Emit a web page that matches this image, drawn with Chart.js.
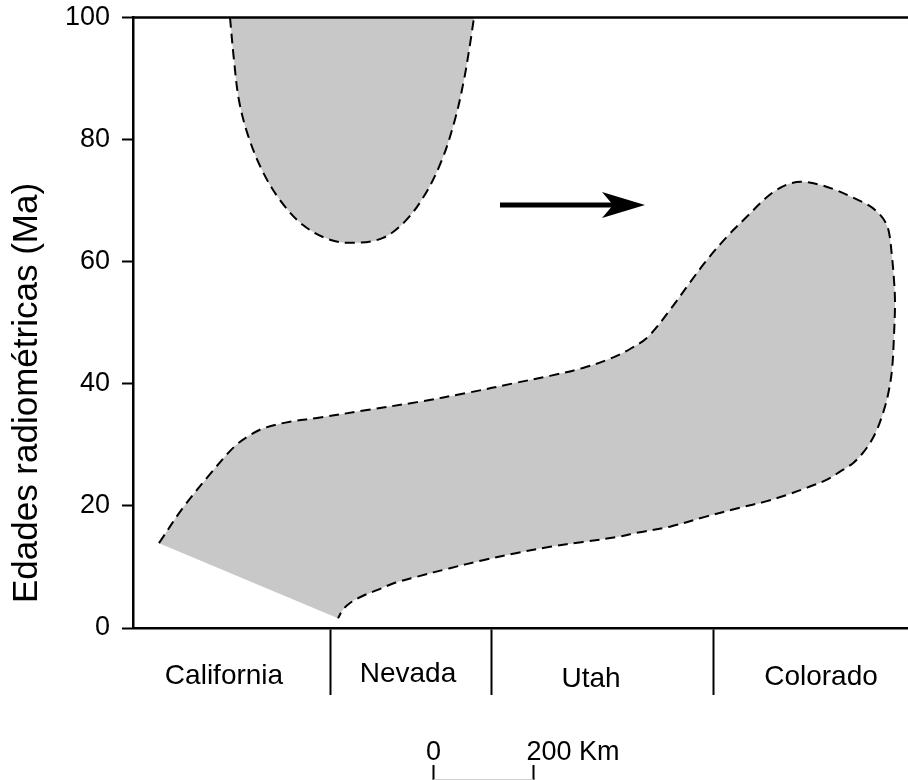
<!DOCTYPE html>
<html lang="es">
<head>
    <meta charset="UTF-8">
    <title>Edades radiométricas</title>
    <script src="https://cdn.jsdelivr.net/npm/chart.js@4.4.1/dist/chart.umd.min.js"></script>
    <style>
        body { margin: 0; background: #fff; }
    </style>
</head>
<body>
    <canvas id="grafico" width="908" height="780"></canvas>
    <script>
        // distancia en km (eje x) y edad en Ma (eje y)
        const arcoViejo = [
            [194, 100], [202, 93.0], [212, 86.4], [230, 80.7], [258, 75.0], [294, 70.1],
            [340, 66.0], [394, 63.6], [444, 63.1], [500, 63.9], [544, 66.6], [584, 71.0],
            [618, 76.7], [644, 83.3], [662, 89.8], [674, 95.6], [682, 100]
        ];
        const arcoJoven = [
            [52, 13.9], [100, 19.7], [154, 25.2], [204, 29.8], [238, 31.8], [264, 32.8],
            [314, 33.8], [368, 34.4], [468, 35.7], [568, 37.0], [668, 38.5], [768, 40.2],
            [834, 41.3], [900, 42.6], [954, 44.1], [994, 45.7], [1030, 47.7], [1074, 52.1],
            [1114, 56.6], [1148, 60.3], [1188, 64.1], [1228, 67.4], [1264, 70.3], [1288, 71.8],
            [1314, 72.8], [1338, 73.1], [1374, 72.6], [1410, 71.6], [1440, 70.5], [1470, 69.3],
            [1488, 68.2], [1504, 66.6], [1512, 64.8], [1518, 60.8], [1522, 57.0], [1524, 53.3],
            [1522, 48.0], [1518, 42.3], [1510, 38.2], [1500, 35.2], [1488, 32.5], [1474, 30.3],
            [1458, 28.5], [1440, 27.0], [1414, 25.6], [1388, 24.3], [1348, 23.0], [1308, 21.8],
            [1264, 20.7], [1214, 19.7], [1144, 18.2], [1074, 16.6], [1014, 15.7], [968, 14.9],
            [900, 14.1], [834, 13.3], [768, 12.3], [700, 11.1], [634, 9.8], [568, 8.4],
            [524, 7.4], [488, 6.2], [458, 5.2], [434, 4.1], [420, 3.0], [410, 1.6]
        ];
        const estados = ["California", "Nevada", "Utah", "Colorado"];
        const centrosEstados = [182, 550, 916, 1376];
        const limitesEstados = [394, 716, 1160];
        const ticksEdad = [0, 20, 40, 60, 80, 100];
        const flecha = { desde: [734, 69.3], hasta: [1024, 69.3] };
        const escalaKm = [600, 800];

        const aPuntos = arr => arr.map(p => ({ x: p[0], y: p[1] }));
        const fuente = "'Liberation Sans', Arial, sans-serif";

        const extras = {
            id: 'extras',
            afterDraw(chart) {
                const ctx = chart.ctx;
                const xs = chart.scales.x, ys = chart.scales.y;
                const area = chart.chartArea;
                ctx.save();
                // linea superior del recuadro
                ctx.strokeStyle = '#000';
                ctx.lineWidth = 2.5;
                ctx.beginPath();
                ctx.moveTo(area.left - 1, area.top);
                ctx.lineTo(chart.width, area.top);
                ctx.stroke();

                // titulo eje y
                ctx.fillStyle = '#000';
                ctx.font = '35px ' + fuente;
                ctx.textAlign = 'center';
                ctx.textBaseline = 'middle';
                ctx.translate(27, 393);
                ctx.rotate(-Math.PI / 2);
                ctx.fillText('Edades radiométricas (Ma)', 0, 0);
                ctx.setTransform(1, 0, 0, 1, 0, 0);

                // nombres de estados
                const bases = [684, 682, 687, 685];
                ctx.font = '28px ' + fuente;
                ctx.textBaseline = 'alphabetic';
                estados.forEach((e, i) => {
                    ctx.fillText(e, xs.getPixelForValue(centrosEstados[i]), bases[i]);
                });

                // flecha
                const x0 = xs.getPixelForValue(flecha.desde[0]);
                const x1 = xs.getPixelForValue(flecha.hasta[0]);
                const yf = ys.getPixelForValue(flecha.desde[1]);
                ctx.lineWidth = 5;
                ctx.beginPath();
                ctx.moveTo(x0, yf);
                ctx.lineTo(x1 - 30, yf);
                ctx.stroke();
                ctx.beginPath();
                ctx.moveTo(x1, yf);
                ctx.lineTo(x1 - 43, yf - 13);
                ctx.lineTo(x1 - 32, yf);
                ctx.lineTo(x1 - 43, yf + 13);
                ctx.closePath();
                ctx.fill();

                // barra de escala
                const e0 = Math.round(xs.getPixelForValue(escalaKm[0])) + 0.5;
                const e1 = Math.round(xs.getPixelForValue(escalaKm[1])) + 0.5;
                ctx.lineWidth = 2;
                ctx.beginPath();
                ctx.moveTo(e0, 765); ctx.lineTo(e0, 780);
                ctx.moveTo(e1, 765); ctx.lineTo(e1, 780);
                ctx.stroke();
                ctx.strokeStyle = '#d0d0d0';
                ctx.lineWidth = 1;
                ctx.beginPath();
                ctx.moveTo(e0, 779.5); ctx.lineTo(e1, 779.5);
                ctx.stroke();
                ctx.font = '27px ' + fuente;
                ctx.textAlign = 'center';
                ctx.fillText('0', e0, 760);
                ctx.textAlign = 'left';
                ctx.fillText('200 Km', e1 - 7, 760);
                ctx.restore();
            }
        };

        const ctx = document.getElementById('grafico').getContext('2d');
        const grafico = new Chart(ctx, {
            type: 'scatter',
            data: {
                datasets: [{
                    data: aPuntos(arcoViejo),
                    showLine: true,
                    fill: 'shape',
                    backgroundColor: '#c8c8c8',
                    borderColor: '#000',
                    borderWidth: 2,
                    borderDash: [10, 6],
                    pointRadius: 0,
                    tension: 0.35
                }, {
                    data: aPuntos(arcoJoven),
                    showLine: true,
                    fill: 'shape',
                    backgroundColor: '#c8c8c8',
                    borderColor: '#000',
                    borderWidth: 2,
                    borderDash: [10, 6],
                    pointRadius: 0,
                    tension: 0.35
                }]
            },
            options: {
                responsive: false,
                animation: false,
                devicePixelRatio: 1,
                layout: { padding: { top: 17.5, right: 0, left: 0, bottom: 0 } },
                plugins: { legend: { display: false }, tooltip: { enabled: false } },
                scales: {
                    x: {
                        type: 'linear',
                        min: 0,
                        max: 1550,
                        afterFit: s => { s.height = 152; },
                        afterBuildTicks: s => { s.ticks = limitesEstados.map(v => ({ value: v })); },
                        ticks: { display: false },
                        grid: { drawOnChartArea: false, tickLength: 67, tickColor: '#000', tickWidth: 2 },
                        border: { color: '#000', width: 2.5 }
                    },
                    y: {
                        min: 0,
                        max: 100,
                        afterFit: s => { s.width = 133; s.paddingTop = 0; s.paddingBottom = 0; },
                        afterBuildTicks: s => { s.ticks = ticksEdad.map(v => ({ value: v })); },
                        ticks: { color: '#000', font: { size: 27, family: fuente }, padding: 12 },
                        grid: { drawOnChartArea: false, tickLength: 11, tickColor: '#000', tickWidth: 2 },
                        border: { color: '#000', width: 2.5 }
                    }
                }
            },
            plugins: [extras]
        });
    </script>
</body>
</html>
